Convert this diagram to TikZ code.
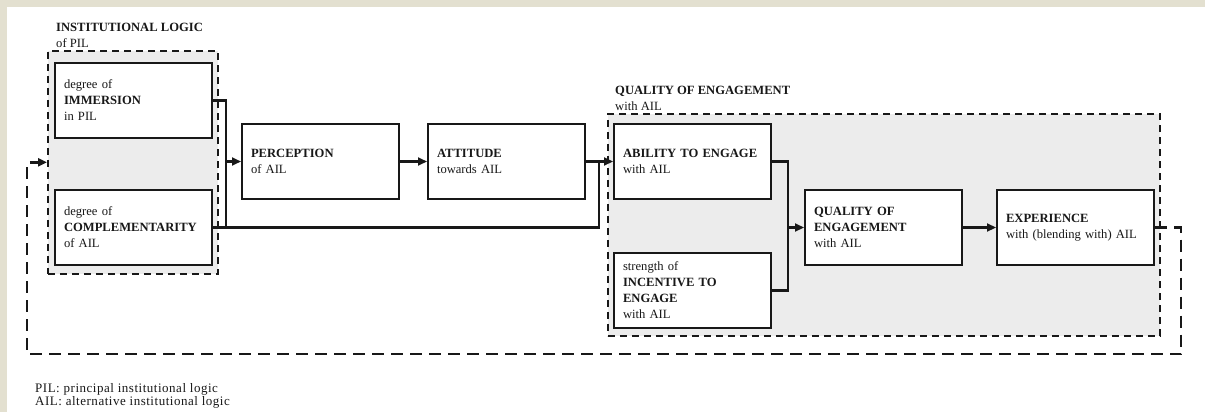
\documentclass[tikz,border=0pt]{standalone}
\usepackage{fontspec}
\setmainfont{Liberation Serif}
\newfontfamily\notefamily[LetterSpace=4]{Liberation Serif}
\usetikzlibrary{arrows.meta,calc}

\definecolor{paper}{RGB}{227,224,208}
\definecolor{groupfill}{RGB}{236,236,236}
\definecolor{ink}{RGB}{24,24,24}

\newcommand{\boxfont}{\fontsize{12.6}{16}\selectfont}
\newcommand{\notefont}{\notefamily\fontsize{13}{11}\selectfont}

\tikzset{
  stagebox/.style={draw=ink, line width=2pt, fill=white,
    minimum width=157pt, minimum height=75pt, text width=139pt,
    inner xsep=9pt, inner ysep=0pt, align=left, anchor=north west,
    font=\boxfont, text=ink},
  groupbox/.style={draw=ink, line width=1.6pt, fill=groupfill,
    dash pattern=on 7pt off 5pt, anchor=north west, inner sep=0pt},
  grouptitle/.style={anchor=north west, inner sep=0pt, align=left,
    font=\boxfont, text=ink},
  conn/.style={draw=ink, line width=2.2pt},
  arr/.style={conn, -{Triangle[length=9pt,width=8pt]}},
  feedback/.style={draw=ink, line width=2.6pt, dash pattern=on 12pt off 7pt,
    -{Triangle[length=9pt,width=8pt]}},
}

\begin{document}
\begin{tikzpicture}[x=1pt,y=-1pt]
  % page frame
  \fill[paper] (0,0) rectangle (1205,412);
  \fill[white] (7,7) rectangle (1205,412);
  \useasboundingbox (0,0) rectangle (1205,412);

  % grouping frames
  \node[groupbox, minimum width=170pt, minimum height=223pt] (g1) at (47,50) {};
  \node[groupbox, minimum width=552pt, minimum height=222pt] (g2) at (607,113) {};

  \node[grouptitle] (t1) at (56,22.5) {\textbf{INSTITUTIONAL LOGIC}\\of PIL};
  \node[grouptitle] (t2) at (615,85.5) {\textbf{QUALITY OF ENGAGEMENT}\\with AIL};

  % stages
  \node[stagebox] (imm)  at (54,62)   {degree of\\\textbf{IMMERSION}\\in PIL};
  \node[stagebox] (comp) at (54,189)  {degree of\\\textbf{COMPLEMENTARITY}\\of AIL};
  \node[stagebox] (perc) at (241,123) {\textbf{PERCEPTION}\\of AIL};
  \node[stagebox] (att)  at (427,123) {\textbf{ATTITUDE}\\towards AIL};
  \node[stagebox] (abil) at (613,123) {\textbf{ABILITY TO ENGAGE}\\with AIL};
  \node[stagebox] (inc)  at (613,252) {strength of\\\textbf{INCENTIVE TO}\\\textbf{ENGAGE}\\with AIL};
  \node[stagebox] (qual) at (804,189) {\textbf{QUALITY OF}\\\textbf{ENGAGEMENT}\\with AIL};
  \node[stagebox] (exp)  at (996,189) {\textbf{EXPERIENCE}\\with (blending with) AIL};

  % junction points
  \coordinate (jL) at ([xshift=-15pt]perc.west);
  \coordinate (jR) at ([xshift=-14pt]abil.west);
  \coordinate (jQ) at ([xshift=-16pt]qual.west);

  % connectors
  \draw[conn] (imm.east) -| (jL |- comp.east);
  \draw[arr]  (jL) -- (perc.west);
  \draw[arr]  (perc.east) -- (att.west);
  \draw[conn] (comp.east) -- (jR |- comp.east) -- (jR);
  \draw[conn] (att.east) -- (jR);
  \draw[arr]  (jR) -- (abil.west);
  \draw[conn] (abil.east) -| (jQ);
  \draw[conn] (inc.east) -| (jQ);
  \draw[arr]  (jQ) -- (qual.west);
  \draw[arr]  (qual.east) -- (exp.west);

  % feedback loop
  \coordinate (fbR) at (1181,354);
  \coordinate (fbL) at (27,354);
  \draw[feedback] (exp.east) -| (fbR) -- (fbL) -- (fbL |- g1.west) -- (g1.west);

  % abbreviations
  \node[anchor=north west, inner sep=0pt, align=left, font=\notefont, text=ink]
    (note) at (35,383) {PIL: principal institutional logic\\AIL: alternative institutional logic};
\end{tikzpicture}
\end{document}
